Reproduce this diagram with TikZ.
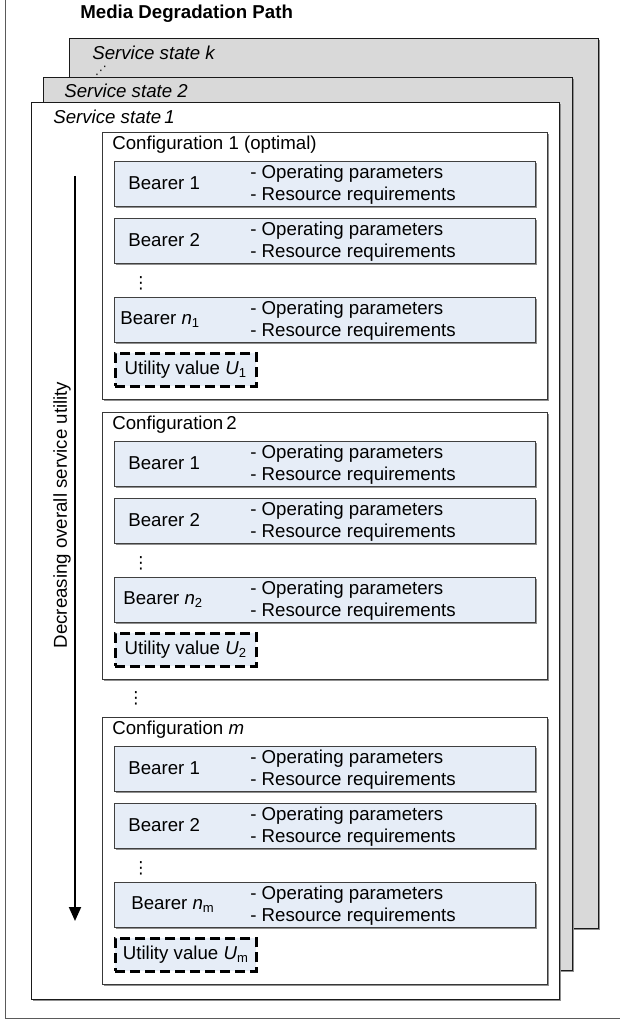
\documentclass[tikz,border=0pt]{standalone}
\usepackage{fontspec}
\setmainfont{Liberation Sans}
\newfontfamily\dotsfont{DejaVu Sans}
\usepackage{tikz}
\usetikzlibrary{arrows.meta,positioning,calc,shadows}
\definecolor{ink}{HTML}{1A1A1A}
\definecolor{frameline}{HTML}{5A5A5A}
\definecolor{cfgline}{HTML}{383838}
\definecolor{bearerline}{HTML}{404040}
\definecolor{bearerfill}{HTML}{E6EDF7}
\definecolor{statefill}{HTML}{D9D9D9}
\definecolor{edgeshade}{HTML}{909090}
\newcommand{\subtxt}[1]{\textsubscript{#1}}
\def\px{0.6pt}

\begin{document}
\begin{tikzpicture}[x=0.6pt, y=-0.6pt,
    every node/.style={font=\fontsize{11.2}{13.2}\selectfont, inner sep=0pt},
    edgeshadow/.style={drop shadow={shadow xshift=0.9pt, shadow yshift=-0.9pt,
        fill=edgeshade, opacity=1}},
    statebox/.style={draw=ink, line width=0.6pt, anchor=north west, edgeshadow},
    statelabel/.style={anchor=west, font=\fontsize{11.2}{13.2}\selectfont\itshape},
    cfgbox/.style={draw=cfgline, fill=white, line width=0.6pt, anchor=north west,
        minimum width=445*\px, minimum height=267*\px, edgeshadow},
    bearerbox/.style={draw=bearerline, fill=bearerfill, line width=0.6pt,
        anchor=north west, minimum width=421*\px, minimum height=45*\px, edgeshadow},
    params/.style={anchor=west, align=left},
    utilbox/.style={draw=black, fill=bearerfill, line width=1.6pt,
        dash pattern=on 6pt off 3pt, anchor=north west,
        minimum width=141*\px, minimum height=33*\px},
    vdots/.style={font=\dotsfont\fontsize{10}{10}\selectfont}]
  \useasboundingbox (0,0) rectangle (620,1023);
  % outer frame, cut by the page on top and right
  \draw[frameline, line width=0.6pt] (5,-20) |- (660,1018);
  \node[anchor=west, font=\fontsize{11.2}{13.2}\selectfont\bfseries]
        (title) at (80,14) {Media Degradation Path};

  % stacked service states
  \node[statebox, fill=statefill, minimum width=529*\px, minimum height=890*\px]
        (statek) at (69,38) {};
  \node[statelabel] (statek-lbl) at ($(statek.north west)+(23,15)$) {Service state \textit{k}};
  \node[font=\dotsfont\fontsize{7}{7}\selectfont] (statek-dots)
        at ($(statek.north west)+(32,33)$) {⋰};
  \node[statebox, fill=statefill, minimum width=529*\px, minimum height=893*\px]
        (state2) at (43,77) {};
  \node[statelabel] (state2-lbl) at ($(state2.north west)+(21,14)$) {Service state 2};
  \node[statebox, fill=white, minimum width=528*\px, minimum height=897*\px]
        (state1) at (31,102) {};
  \node[statelabel] (state1-lbl) at ($(state1.north west)+(22,15)$) {Service state\,1};

  % utility direction
  \coordinate (arrtop) at (75,176);
  \coordinate (arrtip) at (75,921);
  \draw[line width=1.2pt, -{Triangle[length=8.4pt, width=7.2pt]}] (arrtop) -- (arrtip);
  \node[rotate=90] (arrlbl) at (62,515) {Decreasing overall service utility};

  % configurations
  \foreach \t/\lab/\nsub/\nx [count=\i] in
      {132/{Configuration 1 (optimal)}/1/120,
       412/{Configuration\,2}/2/123,
       717/{Configuration \textit{m}}/m/131}{
    \node[cfgbox] (cfg\i) at (102,\t) {};
    \node[anchor=west] (cfg\i-lbl) at ($(cfg\i.north west)+(10,13)$) {\lab};
    \foreach \b/\off/\btxt/\bx in
        {1/29/{Bearer 1}/128, 2/86/{Bearer 2}/128,
         n/165/{Bearer \textit{n}\subtxt{\nsub}}/\nx}{
      \node[bearerbox] (cfg\i-b\b) at (114,\t+\off) {};
      \node[anchor=west] (cfg\i-b\b-name) at (\bx,\t+\off+22.5) {\btxt};
      \node[params] (cfg\i-b\b-par) at (250,\t+\off+23.5)
            {- Operating parameters\\- Resource requirements};
    }
    \node[vdots] (cfg\i-dots) at (141,\t+151) {⋮};
    \node[utilbox] (cfg\i-util) at (114,\t+220) {Utility value \textit{U}\subtxt{\nsub}};
  }
  \node[vdots] (cfg-gap) at (136,698) {⋮};
\end{tikzpicture}
\end{document}
